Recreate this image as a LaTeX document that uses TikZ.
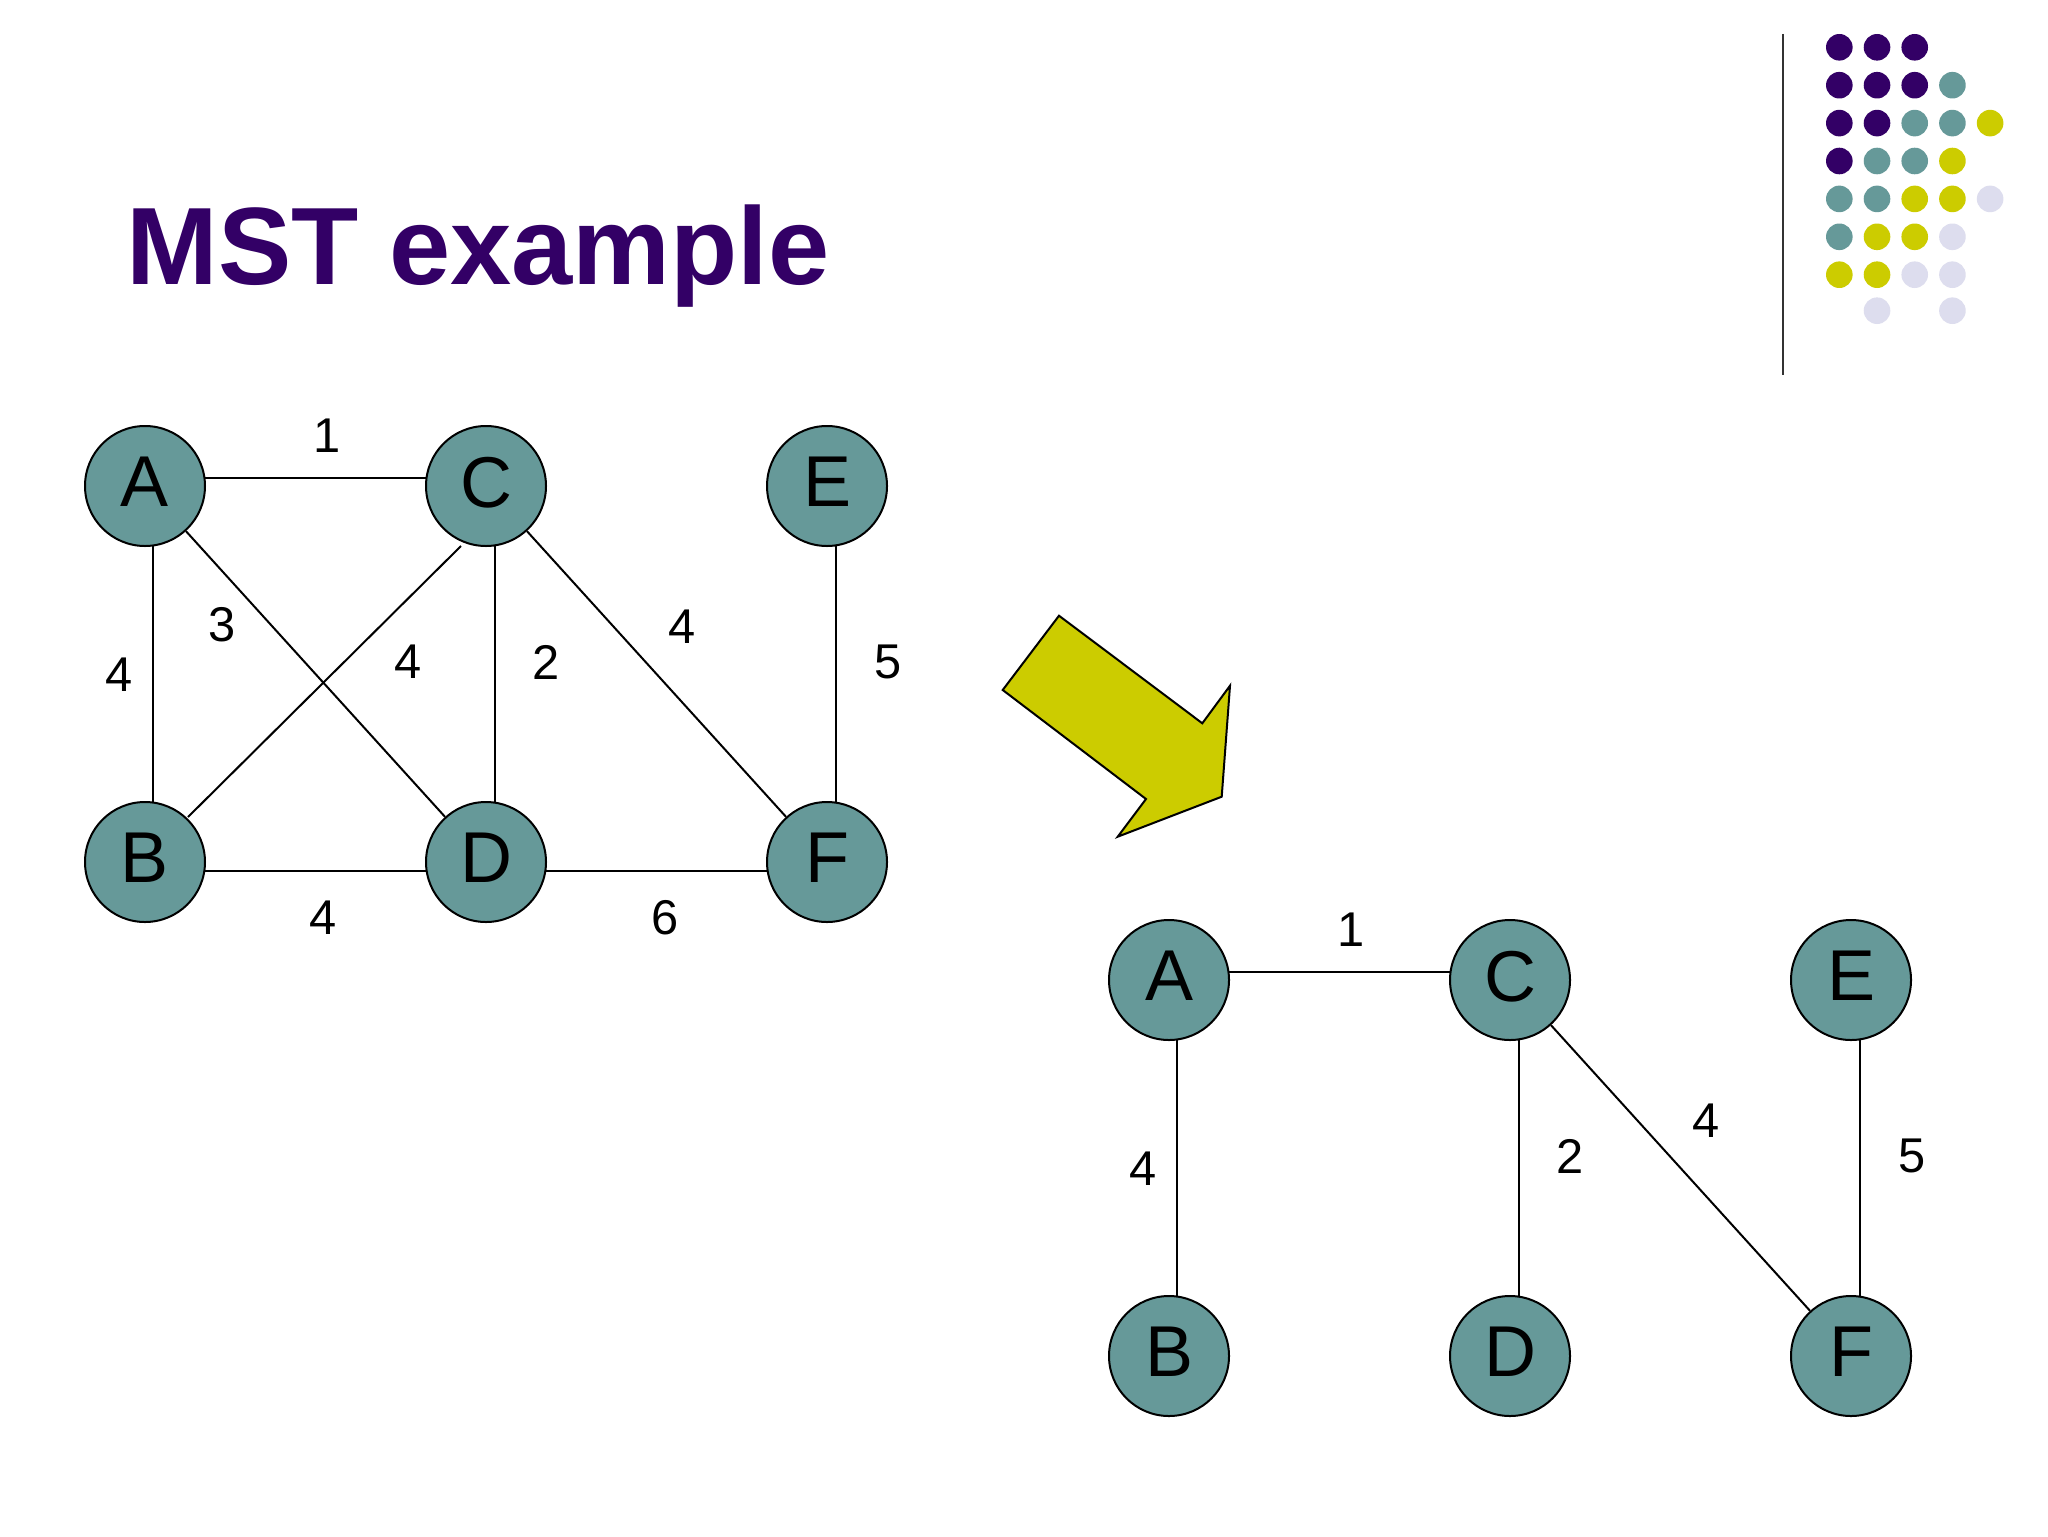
\documentclass[tikz,border=0pt]{standalone}
\usepackage{fontspec}
\setmainfont{Liberation Sans}
\usetikzlibrary{calc,backgrounds}
\definecolor{mpurple}{HTML}{330066}
\definecolor{mteal}{HTML}{669999}
\definecolor{myellow}{HTML}{CCCC00}
\definecolor{mlav}{HTML}{DDDDEE}
\begin{document}
\begin{tikzpicture}[x=0.5pt,y=-0.5pt,
  vert/.style={circle,draw=black,line width=1pt,fill=mteal,minimum size=60pt,inner sep=0pt,font=\fontsize{36}{40}\selectfont,text depth=4pt},
  edge/.style={draw=black,line width=1pt},
  wlabel/.style={font=\fontsize{24.4}{28}\selectfont,inner sep=0pt},
  dotP/.style={fill=mpurple},
  dotT/.style={fill=mteal},
  dotY/.style={fill=myellow},
  dotL/.style={fill=mlav},
]
\useasboundingbox (0,0) rectangle (2048,1536);
\begin{scope}[on background layer]
  \fill[white] (0,0) rectangle (2048,1536);
\end{scope}

% title
\node[anchor=base west,inner sep=0pt,text=mpurple,font=\bfseries\fontsize{55}{60}\selectfont] (title) at (126,284) {MST example};

% separator line
\draw[line width=1pt,color=black!80] (1783,34) -- (1783,375);

% dots
\foreach \row/\list in {0/{P,P,P},1/{P,P,P,T},2/{P,P,T,T,Y},3/{P,T,T,Y},4/{T,T,Y,Y,L},5/{T,Y,Y,L},6/{Y,Y,L,L}}{
  \foreach \c [count=\i from 0] in \list {
    \fill[dot\c] ({1839.3+37.7*\i},{47.3+37.9*\row}) circle (13.3);
  }
}
\fill[dotL] ({1839.3+37.7*1},310.7) circle (13.3);
\fill[dotL] ({1839.3+37.7*3},310.7) circle (13.3);

% arrow
\filldraw[fill=myellow,draw=black,line width=1pt,line join=miter]
  (1059,615.7) -- (1202.3,723.3) -- (1230,685.7) -- (1221.7,796.7) -- (1117.7,836.7) -- (1146,799) -- (1002.7,690) -- cycle;

% left graph nodes
\node[vert] (A) at (145,486) {A};
\node[vert] (C) at (486,486) {C};
\node[vert] (E) at (827,486) {E};
\node[vert] (B) at (145,862) {B};
\node[vert] (D) at (486,862) {D};
\node[vert] (F) at (827,862) {F};

% left labels
\node[wlabel] (l1) at (327,436) {1};
\node[wlabel] (l2) at (119,675) {4};
\node[wlabel] (l3) at (222,625) {3};
\node[wlabel] (l4) at (408,662) {4};
\node[wlabel] (l5) at (546,662) {2};
\node[wlabel] (l6) at (323,918) {4};
\node[wlabel] (l7) at (682,627) {4};
\node[wlabel] (l8) at (888,662) {5};
\node[wlabel] (l9) at (665,918) {6};

% right graph
\begin{scope}[shift={(1024,494)}]
\node[vert] (A2) at (145,486) {A};
\node[vert] (C2) at (486,486) {C};
\node[vert] (E2) at (827,486) {E};
\node[vert] (B2) at (145,862) {B};
\node[vert] (D2) at (486,862) {D};
\node[vert] (F2) at (827,862) {F};
\node[wlabel] (r1) at (327,436) {1};
\node[wlabel] (r2) at (119,675) {4};
\node[wlabel] (r5) at (546,662) {2};
\node[wlabel] (r7) at (682,627) {4};
\node[wlabel] (r8) at (888,662) {5};
\end{scope}

\begin{scope}[on background layer]
\draw[edge] ($(A)+(0,-8)$) -- ($(C)+(0,-8)$);
\draw[edge] ($(A)+(8,0)$) -- ($(B)+(8,0)$);
\draw[edge] (A) -- (D);
\draw[edge] ($(C)+(-25,60)$) -- ($(B)+(43,-45)$);
\draw[edge] ($(C)+(9,0)$) -- ($(D)+(9,0)$);
\draw[edge] ($(B)+(0,9)$) -- ($(D)+(0,9)$);
\draw[edge] ($(D)+(0,9)$) -- ($(F)+(0,9)$);
\draw[edge] (C) -- (F);
\draw[edge] ($(E)+(9,0)$) -- ($(F)+(9,0)$);

\draw[edge] ($(A2)+(0,-8)$) -- ($(C2)+(0,-8)$);
\draw[edge] ($(A2)+(8,0)$) -- ($(B2)+(8,0)$);
\draw[edge] ($(C2)+(9,0)$) -- ($(D2)+(9,0)$);
\draw[edge] (C2) -- (F2);
\draw[edge] ($(E2)+(9,0)$) -- ($(F2)+(9,0)$);
\end{scope}
\end{tikzpicture}
\end{document}
